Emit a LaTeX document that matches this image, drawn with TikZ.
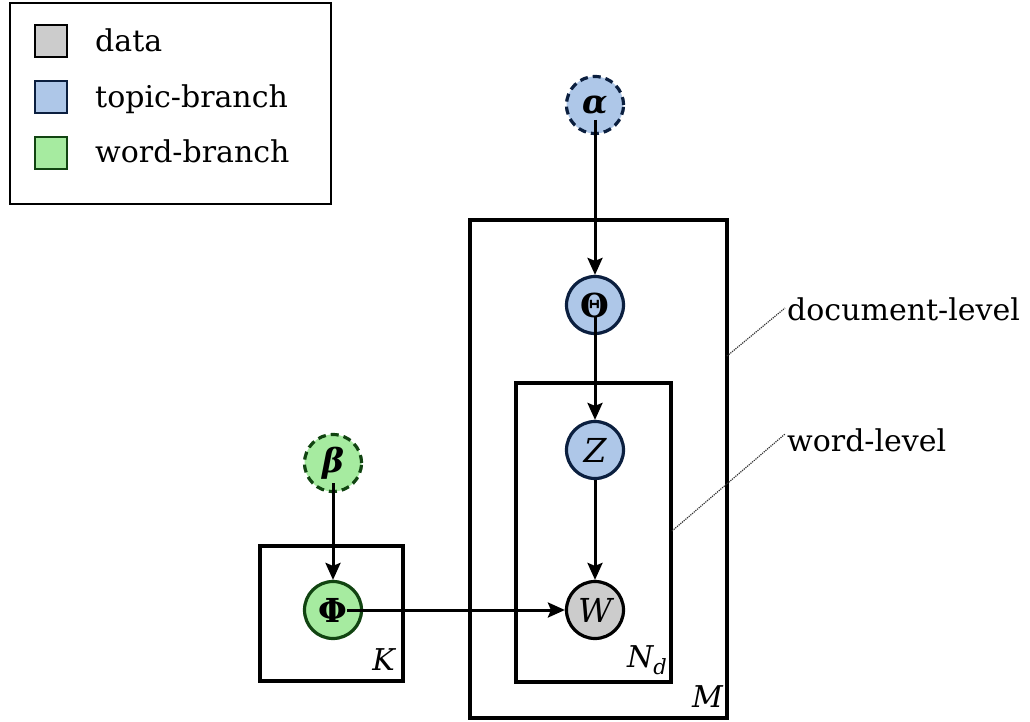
\documentclass[tikz,border=0pt]{standalone}
\usepackage{fontspec}
\setmainfont{DejaVu Serif}
\usetikzlibrary{arrows.meta}
\definecolor{datafill}{HTML}{CCCCCC}
\definecolor{topicfill}{HTML}{AEC7E8}
\definecolor{topicdraw}{HTML}{0B1F3F}
\definecolor{wordfill}{HTML}{A6EBA0}
\definecolor{worddraw}{HTML}{114411}
\newcommand{\subd}{{\fontsize{21}{22}\selectfont\raisebox{-7pt}{\itshape d}}}
\begin{document}
\begin{tikzpicture}[x=1pt,y=-1pt,
  every node/.style={font=\fontsize{30}{36}\selectfont},
  var/.style={circle,draw=black,line width=3.2pt,minimum size=57pt,inner sep=0pt,font=\fontsize{33}{36}\selectfont},
  datavar/.style={var,fill=datafill},
  topicvar/.style={var,fill=topicfill,draw=topicdraw},
  wordvar/.style={var,fill=wordfill,draw=worddraw},
  hyper/.style={dash pattern=on 8pt off 5pt},
  plate/.style={draw=black,line width=3.4pt},
  edge/.style={line width=3pt,-{Stealth[length=17pt,width=15pt,inset=3pt]}},
  pinline/.style={line width=1.2pt,dash pattern=on 1.2pt off 1pt,black!80},
  legsq/.style={draw=black,line width=2.4pt,minimum size=32pt,inner sep=0pt},
  legtxt/.style={anchor=base west,inner sep=0pt}]
\useasboundingbox (0,0) rectangle (1030,722);

% legend
\draw[line width=2.6pt] (10,3) rectangle (331,204);
\node[legsq,fill=datafill] (sq1) at (51,41) {};
\node[legsq,fill=topicfill,draw=topicdraw] (sq2) at (51,97) {};
\node[legsq,fill=wordfill,draw=worddraw] (sq3) at (51,153) {};
\node[legtxt] (t1) at (95,52) {data};
\node[legtxt] (t2) at (95,108) {topic-branch};
\node[legtxt] (t3) at (95,163) {word-branch};

% plates
\draw[plate] (470,220) rectangle (727,718);
\draw[plate] (516,383) rectangle (671,682);
\draw[plate] (260,546) rectangle (403,681);
\node[anchor=base east,inner sep=0pt] (lM) at (723,707) {\itshape M};
\node[anchor=base east,inner sep=0pt] (lN) at (667,667) {\itshape N\subd};
\node[anchor=base east,inner sep=0pt] (lK) at (395,670) {\itshape K};

% nodes
\node[topicvar,hyper] (alpha) at (595,105) {\bfseries\itshape α};
\node[topicvar] (theta) at (595,305) {\bfseries Θ};
\node[topicvar] (z) at (595,450) {\itshape Z};
\node[datavar] (w) at (595,610) {\itshape W};
\node[wordvar,hyper] (beta) at (333,463) {\bfseries\itshape β};
\node[wordvar] (phi) at (333,610) {\bfseries Φ};

% edges
\draw[edge] ([yshift=-15pt]alpha.center) -- (theta.north);
\draw[edge] ([yshift=-12pt]theta.center) -- (z.north);
\draw[edge] (z.south) -- (w.north);
\draw[edge] ([yshift=-20pt]beta.center) -- (phi.north);
\draw[edge] ([xshift=14pt]phi.center) -- (w.west);

% annotations
\coordinate (docanch) at (727,356);
\coordinate (wordanch) at (672,531);
\node[anchor=west,inner sep=2pt] (doclab) at (785,309) {document-level};
\node[anchor=west,inner sep=2pt] (wordlab) at (785,440) {word-level};
\draw[pinline] (docanch) -- ([yshift=1pt]doclab.west);
\draw[pinline] (wordanch) -- ([yshift=6pt]wordlab.west);
\end{tikzpicture}
\end{document}
